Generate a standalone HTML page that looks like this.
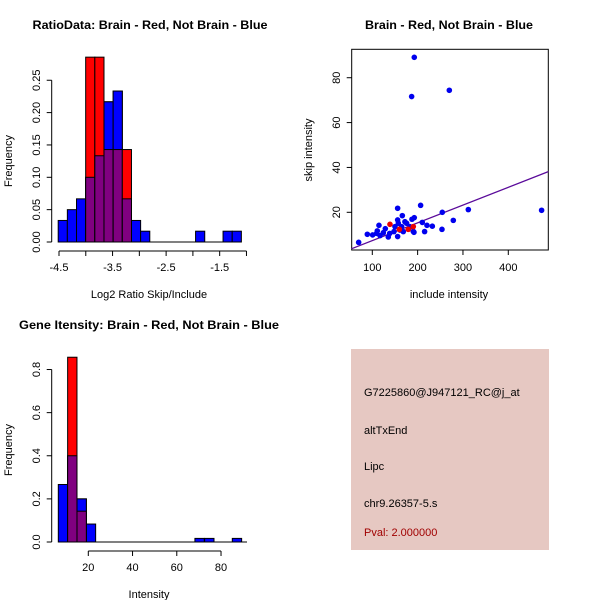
<!DOCTYPE html>
<html><head><meta charset="utf-8"><style>
body{margin:0;background:#fff}
svg{display:block;font-family:"Liberation Sans",sans-serif}
</style></head><body>
<svg id="fig" width="600" height="600" viewBox="0 0 600 600">
<rect width="600" height="600" fill="#fff"/>
<g id="p1"></g>
<g id="p2"></g>
<g id="p3"></g>
<g id="p4">
<rect x="351" y="349" width="198" height="201" fill="#e6c8c2"/>
<text x="364" y="396" font-size="11" fill="#000">G7225860@J947121_RC@j_at</text>
<text x="364" y="434" font-size="11" fill="#000">altTxEnd</text>
<text x="364" y="470" font-size="11" fill="#000">Lipc</text>
<text x="364" y="507" font-size="11" fill="#000">chr9.26357-5.s</text>
<text x="364" y="536" font-size="11" fill="#a00000">Pval: 2.000000</text>
</g>
</svg>
<script>
// ---- Plot 1 data ----
const p1BinStart = -4.515;
const p1BinWidth = 0.171;
const p1Blue = [0.0333,0.05,0.0667,0.1,0.1333,0.2167,0.2333,0.0667,0.0333,0.0167,0,0,0,0,0,0.0167,0,0,0.0167,0.0167];
const p1Red  = [0,0,0,0.2857,0.2857,0.1429,0.1429,0.1429,0,0,0,0,0,0,0,0,0,0,0,0];
const p1XTicks = [-4.5,-3.5,-2.5,-1.5];
const p1XMinor = [-4.5,-4,-3.5,-3,-2.5,-2,-1.5,-1];
const p1YTicks = [0,0.05,0.10,0.15,0.20,0.25];
const p1YLabels = ["0.00","0.05","0.10","0.15","0.20","0.25"];
// ---- Plot 2 data ----
const p2BlueX = [192.6,186.8,269.9,69.9,89,114.7,206.6,155.9,311.8,473.5,254.4,278.7,253.7,232.4,220.6,215.4,210.3,192.6,187.5,166.2,155.9,155.9,135.3,128.7,100.7,109.6,117,124.3,147.8,161,164.7,175.7,183.1,190.4,150,168.4,157.4,138.4,172,111,191.9];
const p2BlueY = [89.1,71.6,74.4,6.6,10.2,14.2,23.1,21.8,21.2,20.9,20,16.4,12.4,13.8,14.2,11.4,15.5,17.6,16.9,18.5,16.6,9.2,9,12.7,9.9,10.6,9.6,10.9,11.4,12.1,13.6,15.1,13.6,11.5,13.6,11.4,15.1,10.6,15.8,11.7,11.1];
const p2RedX = [139,190.4,179.4,159.6];
const p2RedY = [14.65,13.6,12.4,12.4];
const p2Fit = [-0.55,0.0792];
const p2XTicks = [100,200,300,400];
const p2YTicks = [20,40,60,80];
// ---- Plot 3 data ----
const p3BlueEdges = [6.44,10.66,14.9,19.1,68.2,72.6,85.1];
const p3BlueVals  = [0.2667,0.4,0.2,0.0833,0.0167,0.0167,0.0167];
const p3RedEdges = [10.66,14.9];
const p3RedVals  = [0.857,0.1429];
const p3BinWidth = 4.22;
const p3XTicks = [20,40,60,80];
const p3YTicks = [0,0.2,0.4,0.6,0.8];
const p3YLabels = ["0.0","0.2","0.4","0.6","0.8"];

const NS="http://www.w3.org/2000/svg";
function mk(parent,tag,attrs,txt){const e=document.createElementNS(NS,tag);for(const k in attrs)e.setAttribute(k,attrs[k]);if(txt!==undefined)e.textContent=txt;parent.appendChild(e);return e;}

// Plot 1
(function(){
const g=document.getElementById('p1');
const X=v=>59+(v+4.5)*53.56, Y=v=>242-v*647;
p1Blue.forEach((v,i)=>{if(!v)return;const x0=X(p1BinStart+i*p1BinWidth),x1=X(p1BinStart+(i+1)*p1BinWidth);
 const r=mk(g,'rect',{x:x0,y:Y(v),width:x1-x0,height:Y(0)-Y(v),fill:'#0000ff',stroke:'#000','stroke-width':1});
 
 });
p1Red.forEach((v,i)=>{if(!v)return;const b=p1Blue[i];const x0=X(p1BinStart+i*p1BinWidth),x1=X(p1BinStart+(i+1)*p1BinWidth);
 const top=Math.max(v,b),lo=Math.min(v,b);
 const r=mk(g,'rect',{x:x0,y:Y(top),width:x1-x0,height:Y(0)-Y(top),fill:(v>b?'#ff0000':'#0000ff'),stroke:'#000','stroke-width':1});
 
 
 const o=mk(g,'rect',{x:x0,y:Y(lo),width:x1-x0,height:Y(0)-Y(lo),fill:'#800080',stroke:'#000','stroke-width':1});
 
 });
mk(g,'line',{x1:X(p1BinStart),x2:X(p1BinStart+20*p1BinWidth),y1:242,y2:242,stroke:'#000'});
mk(g,'line',{x1:X(-4.5),x2:X(-1),y1:251,y2:251,stroke:'#000'});
p1XMinor.forEach(t=>mk(g,'line',{x1:X(t),x2:X(t),y1:251,y2:256,stroke:'#000'}));
p1XTicks.forEach(t=>{const e=mk(g,'text',{x:X(t),y:271,'font-size':11,'text-anchor':'middle'},String(t));
 
 });
mk(g,'line',{x1:51.7,x2:51.7,y1:Y(0),y2:Y(0.25),stroke:'#000'});
p1YTicks.forEach((t,i)=>{mk(g,'line',{x1:46.7,x2:51.7,y1:Y(t),y2:Y(t),stroke:'#000'});
 const e=mk(g,'text',{x:0,y:0,'font-size':11,'text-anchor':'middle',transform:`translate(40,${Y(t)}) rotate(-90)`},p1YLabels[i]);
 
 });
const t=mk(g,'text',{x:150,y:29,'font-size':12,'font-weight':'bold','text-anchor':'middle',textLength:235,lengthAdjust:'spacingAndGlyphs'},'RatioData: Brain - Red, Not Brain - Blue');

const xl=mk(g,'text',{x:149,y:298,'font-size':11,'text-anchor':'middle'},'Log2 Ratio Skip/Include');

const yl=mk(g,'text',{x:0,y:0,'font-size':11,'text-anchor':'middle',transform:'translate(12,161) rotate(-90)'},'Frequency');

})();

// Plot 2
(function(){
const g=document.getElementById('p2');
const X=v=>372.3+(v-100)*0.4533, Y=v=>212.3-(v-20)*2.243;
mk(g,'rect',{x:351.7,y:49.3,width:196.6,height:200.7,fill:'none',stroke:'#000'});
const x0=(351.7-372.3)/0.4533+100,x1=(548.3-372.3)/0.4533+100;
const ln=mk(g,'line',{x1:X(x0),y1:Y(p2Fit[0]+p2Fit[1]*x0),x2:X(x1),y2:Y(p2Fit[0]+p2Fit[1]*x1),stroke:'#5a0a9a','stroke-width':1.3});

p2BlueX.forEach((v,i)=>{const c=mk(g,'circle',{cx:X(v),cy:Y(p2BlueY[i]),r:2.8,fill:'#0000ee'});
 
 });
p2RedX.forEach((v,i)=>{const c=mk(g,'circle',{cx:X(v),cy:Y(p2RedY[i]),r:2.8,fill:'#ee0000'});
 
 });
p2XTicks.forEach(t=>{mk(g,'line',{x1:X(t),x2:X(t),y1:250,y2:255,stroke:'#000'});
 const e=mk(g,'text',{x:X(t),y:271,'font-size':11,'text-anchor':'middle'},String(t));
 
 });
p2YTicks.forEach(t=>{mk(g,'line',{x1:346.7,x2:351.7,y1:Y(t),y2:Y(t),stroke:'#000'});
 const e=mk(g,'text',{x:0,y:0,'font-size':11,'text-anchor':'middle',transform:`translate(340,${Y(t)}) rotate(-90)`},String(t));
 
 });
const t=mk(g,'text',{x:449,y:29,'font-size':12,'font-weight':'bold','text-anchor':'middle',textLength:168,lengthAdjust:'spacingAndGlyphs'},'Brain - Red, Not Brain - Blue');

const xl=mk(g,'text',{x:449,y:298,'font-size':11,'text-anchor':'middle'},'include intensity');

const yl=mk(g,'text',{x:0,y:0,'font-size':11,'text-anchor':'middle',transform:'translate(312,150) rotate(-90)'},'skip intensity');

})();

// Plot 3
(function(){
const g=document.getElementById('p3');
const X=v=>88.3+(v-20)*2.212, Y=v=>542-v*215.6;
p3BlueEdges.forEach((e0,i)=>{const v=p3BlueVals[i];const r=mk(g,'rect',{x:X(e0),y:Y(v),width:X(e0+p3BinWidth)-X(e0),height:Y(0)-Y(v),fill:'#0000ff',stroke:'#000'});
 
 });
p3RedEdges.forEach((e0,i)=>{const v=p3RedVals[i];const j=p3BlueEdges.indexOf(e0);const b=j>=0?p3BlueVals[j]:0;
 const top=Math.max(v,b),lo=Math.min(v,b);
 const r=mk(g,'rect',{x:X(e0),y:Y(top),width:X(e0+p3BinWidth)-X(e0),height:Y(0)-Y(top),fill:(v>b?'#ff0000':'#0000ff'),stroke:'#000'});
 
 
 const o=mk(g,'rect',{x:X(e0),y:Y(lo),width:X(e0+p3BinWidth)-X(e0),height:Y(0)-Y(lo),fill:'#800080',stroke:'#000'});
 
 });
mk(g,'line',{x1:X(6.44),x2:247,y1:542,y2:542,stroke:'#000'});
mk(g,'line',{x1:X(20),x2:X(80),y1:551,y2:551,stroke:'#000'});
p3XTicks.forEach(t=>{mk(g,'line',{x1:X(t),x2:X(t),y1:551,y2:556,stroke:'#000'});
 const e=mk(g,'text',{x:X(t),y:571,'font-size':11,'text-anchor':'middle'},String(t));
 
 });
mk(g,'line',{x1:51.7,x2:51.7,y1:Y(0),y2:Y(0.8),stroke:'#000'});
p3YTicks.forEach((t,i)=>{mk(g,'line',{x1:46.7,x2:51.7,y1:Y(t),y2:Y(t),stroke:'#000'});
 const e=mk(g,'text',{x:0,y:0,'font-size':11,'text-anchor':'middle',transform:`translate(40,${Y(t)}) rotate(-90)`},p3YLabels[i]);
 
 });
const t=mk(g,'text',{x:149,y:329,'font-size':12,'font-weight':'bold','text-anchor':'middle',textLength:260,lengthAdjust:'spacingAndGlyphs'},'Gene Itensity: Brain - Red, Not Brain - Blue');

const xl=mk(g,'text',{x:149,y:598,'font-size':11,'text-anchor':'middle'},'Intensity');

const yl=mk(g,'text',{x:0,y:0,'font-size':11,'text-anchor':'middle',transform:'translate(12,450) rotate(-90)'},'Frequency');

})();
</script>
</body></html>
